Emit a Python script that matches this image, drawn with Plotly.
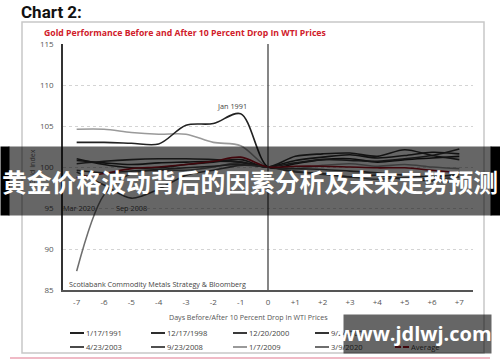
import plotly.graph_objects as go

# ---------------- data ----------------
days = [-7, -6, -5, -4, -3, -2, -1, 0, 1, 2, 3, 4, 5, 6, 7]
tick_labels = ["-7", "-6", "-5", "-4", "-3", "-2", "-1", "0",
               "+1", "+2", "+3", "+4", "+5", "+6", "+7"]
y_ticks = [85, 90, 95, 100, 105, 110, 115]

s_1991 = [103.0, 103.0, 102.9, 102.8, 105.1, 105.3, 106.5, 100.0, 100.4, 100.9, 101.0, 100.6, 100.9, 101.1, 101.3]
s_1998 = [100.8, 100.5, 100.3, 100.5, 100.6, 100.7, 100.6, 100.0, 100.8, 101.2, 101.5, 101.1, 101.4, 101.8, 101.6]
s_2000 = [100.4, 100.7, 100.9, 101.0, 101.0, 100.9, 100.6, 100.0, 100.5, 100.9, 100.8, 100.7, 101.0, 101.4, 102.2]
s_2001 = [101.0, 100.3, 99.9, 99.9, 100.3, 100.6, 100.9, 100.0, 101.3, 101.6, 101.7, 101.3, 102.1, 101.4, 100.9]
s_2003 = [99.6, 99.3, 99.5, 99.7, 99.9, 100.1, 100.3, 100.0, 99.8, 99.7, 99.5, 99.3, 99.0, 98.8, 99.1]
s_2008 = [99.4, 97.8, 96.2, 97.3, 99.0, 99.6, 100.2, 100.0, 99.4, 99.2, 98.8, 99.0, 98.5, 98.3, 98.1]
s_2009 = [104.6, 104.6, 104.2, 104.0, 104.0, 103.0, 102.6, 100.0, 99.8, 100.2, 100.4, 100.1, 100.3, 100.0, 99.8]
s_2020 = [87.3, 96.6, 99.2, 99.6, 99.6, 100.0, 100.5, 100.0, 99.5, 99.1, 98.8, 98.5, 98.7, 98.5, 98.8]
s_avg = [98.7, 99.2, 99.8, 100.0, 100.3, 100.7, 101.2, 100.0, 100.1, 100.1, 100.0, 99.9, 99.9, 99.6, 99.3]

series_names = ["1/17/1991", "12/17/1998", "12/20/2000", "9/24/2001",
                "4/23/2003", "9/23/2008", "1/7/2009", "3/9/2020", "Average"]
series_values = [s_1991, s_1998, s_2000, s_2001, s_2003, s_2008, s_2009, s_2020, s_avg]

label_text = ["Jan 1991", "Mar 2020", "Sep 2008"]
label_x = [-1.3, -6.9, -5.0]
label_y = [107.4, 95.0, 95.0]

# ---------------- styles ----------------
colors = ["#222222", "#2e2e2e", "#3a3a3a", "#333333", "#4a4a4a",
          "#505050", "#9a9a9a", "#6e6e6e", "#a3101e"]
FONT = "Open Sans, Noto Sans, sans-serif"

W, H = 500, 362
L, R, T, B = 63, 27, 44, 72
PW, PH = W - L - R, H - T - B


def px(x):
    return (x - L) / PW


def py(y):
    return (H - B - y) / PH


fig = go.Figure()
order = [6, 7, 0, 1, 2, 3, 4, 5, 8]
for i in order:
    fig.add_trace(go.Scatter(
        x=days, y=series_values[i], name=series_names[i], mode="lines",
        line=dict(color=colors[i], width=1.6, shape="spline", smoothing=0.9),
        showlegend=False, hoverinfo="skip"))

shapes = []
shapes.append(dict(type="line", xref="x", yref="y", x0=0, x1=0, y0=y_ticks[0], y1=y_ticks[-1],
                   line=dict(color="#444444", width=1.3), layer="above"))
shapes.append(dict(type="rect", xref="paper", yref="paper", x0=px(22), x1=px(484),
                   y0=py(353), y1=py(22), line=dict(color="#c8c8c8", width=1.5)))
shapes.append(dict(type="line", xref="paper", yref="paper", x0=px(10), x1=px(490),
                   y0=py(358), y1=py(358), line=dict(color="#eba3b3", width=1.5)))

annotations = []


def text(x, y, s, size=8, color="#444444", anchor="left", bold=False, angle=0, family=FONT):
    annotations.append(dict(xref="paper", yref="paper", x=px(x), y=py(y), text=("<b>%s</b>" % s) if bold else s,
                            showarrow=False, xanchor=anchor, yanchor="middle", textangle=angle,
                            font=dict(family=family, size=size, color=color)))


text(19, 12, "Chart 2:", size=17, color="#111111", bold=True, family="Roboto, sans-serif")
text(42, 33, "Gold Performance Before and After 10 Percent Drop In WTI Prices", size=8.7, color="#d0202a", bold=True)
text(32, 167, "Gold Index", size=7, color="#666666", anchor="center", angle=-90)
text(248, 317, "Days Before/After 10 Percent Drop In WTI Prices", size=7.1, color="#555555", anchor="center")
text(67, 284, "Scotiabank Commodity Metals Strategy &amp; Bloomberg", size=7.2, color="#444444")

for s, lx, ly in zip(label_text, label_x, label_y):
    annotations.append(dict(x=lx, y=ly, xref="x", yref="y", text=s, showarrow=False,
                            font=dict(family=FONT, size=7.3, color="#444444")))

# manual legend
legend_pos = [(70, 333), (151, 333), (233, 333), (315, 333),
              (70, 347), (151, 347), (233, 347), (315, 347), (395, 347)]
for i, (lx, ly) in enumerate(legend_pos):
    if series_names[i] == "Average":
        shapes.append(dict(type="line", xref="paper", yref="paper", x0=px(lx), x1=px(lx + 6),
                           y0=py(ly), y1=py(ly), line=dict(color=colors[i], width=2)))
        shapes.append(dict(type="line", xref="paper", yref="paper", x0=px(lx + 8), x1=px(lx + 14),
                           y0=py(ly), y1=py(ly), line=dict(color=colors[i], width=2)))
    else:
        shapes.append(dict(type="line", xref="paper", yref="paper", x0=px(lx), x1=px(lx + 14),
                           y0=py(ly), y1=py(ly), line=dict(color=colors[i], width=2)))
    text(lx + 14, ly, series_names[i], size=7.6, color="#444444")

# overlay banner: black edge strips, translucent band, then the text on top
annotations.append(dict(xref="paper", yref="paper", x=px(0), y=py(181), xanchor="left", yanchor="middle",
                        text=" ", showarrow=False, width=8, height=68, bgcolor="#000000", borderpad=0))
annotations.append(dict(xref="paper", yref="paper", x=px(490), y=py(181), xanchor="left", yanchor="middle",
                        text=" ", showarrow=False, width=10, height=68, bgcolor="#000000", borderpad=0))
annotations.append(dict(xref="paper", yref="paper", x=px(8), y=py(181), xanchor="left", yanchor="middle",
                        text=" ", showarrow=False, width=482, height=68, bgcolor="rgba(0,0,0,0.6)", borderpad=0))
annotations.append(dict(xref="paper", yref="paper", x=px(250), y=py(181), xanchor="center", yanchor="middle",
                        text="<b>黄金价格波动背后的因素分析及未来走势预测</b>", showarrow=False,
                        width=500, height=40, borderpad=0,
                        font=dict(family="Noto Sans CJK SC", size=24.8, color="#ffffff")))
# watermark
annotations.append(dict(xref="paper", yref="paper", x=px(343), y=py(334), xanchor="left", yanchor="middle",
                        text=" ", showarrow=False, width=147, height=38,
                        bgcolor="rgba(0,0,0,0.6)", borderpad=0))
annotations.append(dict(xref="paper", yref="paper", x=px(415), y=py(333), xanchor="center", yanchor="middle",
                        text="<b>www.jdlwj.com</b>", showarrow=False, width=160, height=30, borderpad=0,
                        font=dict(family="Open Sans, sans-serif", size=20, color="#ffffff")))

fig.update_layout(
    width=W, height=H, margin=dict(l=L, r=R, t=T, b=B),
    paper_bgcolor="white", plot_bgcolor="white",
    showlegend=False, shapes=shapes, annotations=annotations,
    font=dict(family=FONT),
    xaxis=dict(range=[-7.5, 7.5], tickvals=days, ticktext=tick_labels, showgrid=False,
               zeroline=False, showline=True, linecolor="#555555", linewidth=1.5,
               ticks="", tickfont=dict(size=8, color="#555555"), ticklabelstandoff=4, fixedrange=True),
    yaxis=dict(range=[y_ticks[0], y_ticks[-1]], tickvals=y_ticks, showgrid=True, gridcolor="#d4d4d4",
               griddash="dot", gridwidth=1, zeroline=False, showline=True, linecolor="#333333",
               linewidth=1.5, ticks="", tickfont=dict(size=8, color="#555555"), ticklabelstandoff=6,
               fixedrange=True),
)

fig.write_html("out.html", config={"displayModeBar": False},
               post_script="document.body.style.margin='0';document.body.style.overflow='hidden';")
